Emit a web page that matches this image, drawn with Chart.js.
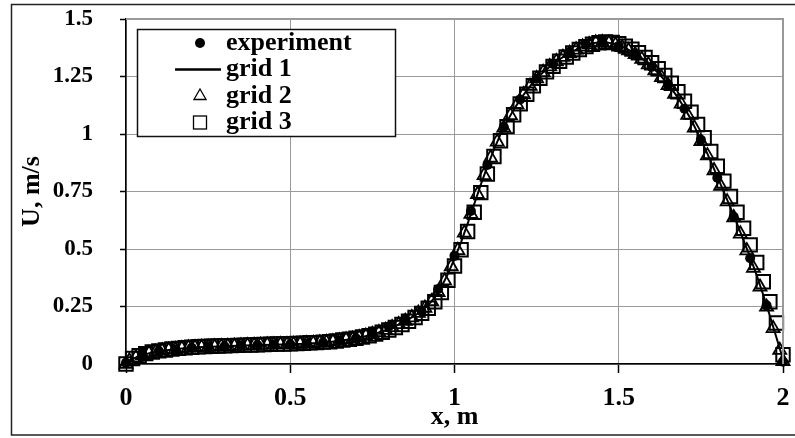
<!DOCTYPE html>
<html><head><meta charset="utf-8">
<script src="https://cdn.jsdelivr.net/npm/chart.js@4/dist/chart.umd.min.js"></script>
<style>html,body{margin:0;padding:0;background:#fff;} canvas{display:block;}</style>
</head><body>
<canvas id="c" width="795" height="438"></canvas>
<script>
// ---- data ----
const xGrid = [0,0.02,0.04,0.06,0.08,0.1,0.12,0.14,0.16,0.18,0.2,0.22,0.24,0.26,0.28,0.3,0.32,0.34,0.36,0.38,0.4,0.42,0.44,0.46,0.48,0.5,0.52,0.54,0.56,0.58,0.6,0.62,0.64,0.66,0.68,0.7,0.72,0.74,0.76,0.78,0.8,0.82,0.84,0.86,0.88,0.9,0.92,0.94,0.96,0.98,1,1.02,1.04,1.06,1.08,1.1,1.12,1.14,1.16,1.18,1.2,1.22,1.24,1.26,1.28,1.3,1.32,1.34,1.36,1.38,1.4,1.42,1.44,1.46,1.48,1.5,1.52,1.54,1.56,1.58,1.6,1.62,1.64,1.66,1.68,1.7,1.72,1.74,1.76,1.78,1.8,1.82,1.84,1.86,1.88,1.9,1.92,1.94,1.96,1.98,2];
const grid1 = [0.000,0.022,0.034,0.043,0.050,0.055,0.059,0.063,0.066,0.069,0.071,0.073,0.074,0.075,0.076,0.077,0.078,0.079,0.080,0.081,0.082,0.083,0.084,0.085,0.085,0.086,0.087,0.088,0.090,0.091,0.093,0.096,0.099,0.103,0.107,0.112,0.118,0.125,0.133,0.142,0.153,0.165,0.179,0.194,0.211,0.231,0.256,0.290,0.335,0.392,0.458,0.530,0.610,0.695,0.780,0.858,0.932,0.998,1.055,1.105,1.150,1.190,1.225,1.255,1.281,1.304,1.325,1.343,1.359,1.373,1.385,1.394,1.399,1.399,1.394,1.385,1.373,1.358,1.340,1.318,1.293,1.265,1.233,1.198,1.158,1.113,1.063,1.005,0.945,0.882,0.815,0.748,0.680,0.610,0.538,0.465,0.385,0.300,0.210,0.115,0.020];
const xGrid2 = [0,0.01,0.03,0.05,0.07,0.09,0.11,0.13,0.15,0.17,0.19,0.21,0.23,0.25,0.27,0.29,0.31,0.33,0.35,0.37,0.39,0.41,0.43,0.45,0.47,0.49,0.51,0.53,0.55,0.57,0.59,0.61,0.63,0.65,0.67,0.69,0.71,0.73,0.75,0.77,0.79,0.81,0.83,0.85,0.87,0.89,0.91,0.93,0.95,0.97,0.99,1.01,1.03,1.05,1.07,1.09,1.11,1.13,1.15,1.17,1.19,1.21,1.23,1.25,1.27,1.29,1.31,1.33,1.35,1.37,1.39,1.41,1.43,1.45,1.47,1.49,1.51,1.53,1.55,1.57,1.59,1.61,1.63,1.65,1.67,1.69,1.71,1.73,1.75,1.77,1.79,1.81,1.83,1.85,1.87,1.89,1.91,1.93,1.95,1.97,1.99,2];
const grid2 = [0.000,0.014,0.028,0.038,0.046,0.052,0.057,0.061,0.064,0.067,0.070,0.072,0.073,0.074,0.075,0.076,0.077,0.078,0.079,0.080,0.081,0.082,0.083,0.084,0.085,0.085,0.086,0.087,0.089,0.090,0.092,0.094,0.097,0.101,0.105,0.109,0.115,0.121,0.129,0.137,0.147,0.159,0.172,0.186,0.202,0.221,0.243,0.272,0.311,0.362,0.424,0.494,0.570,0.652,0.738,0.820,0.896,0.966,1.027,1.081,1.128,1.171,1.208,1.241,1.268,1.293,1.315,1.334,1.351,1.366,1.379,1.389,1.396,1.398,1.395,1.388,1.377,1.363,1.346,1.326,1.302,1.276,1.246,1.212,1.174,1.131,1.082,1.027,0.968,0.906,0.841,0.774,0.706,0.637,0.566,0.493,0.417,0.335,0.248,0.155,0.060,0.012];
const grid3 = [0.000,0.024,0.036,0.045,0.052,0.057,0.061,0.065,0.068,0.071,0.073,0.075,0.076,0.077,0.078,0.079,0.080,0.081,0.082,0.083,0.084,0.085,0.086,0.087,0.087,0.088,0.089,0.090,0.092,0.093,0.095,0.097,0.100,0.104,0.108,0.112,0.117,0.123,0.130,0.138,0.148,0.159,0.172,0.186,0.202,0.220,0.242,0.271,0.311,0.364,0.426,0.497,0.576,0.660,0.745,0.826,0.902,0.971,1.032,1.084,1.131,1.173,1.210,1.242,1.270,1.294,1.316,1.335,1.352,1.367,1.380,1.390,1.397,1.400,1.398,1.392,1.382,1.369,1.353,1.333,1.310,1.284,1.254,1.221,1.184,1.142,1.095,1.041,0.984,0.924,0.860,0.795,0.728,0.660,0.590,0.518,0.441,0.358,0.271,0.178,0.040];
const xExp = [0,0.05,0.1,0.15,0.2,0.25,0.3,0.35,0.4,0.45,0.5,0.55,0.6,0.65,0.7,0.75,0.8,0.85,0.9,0.95,1,1.05,1.1,1.15,1.2,1.25,1.3,1.35,1.4,1.45,1.5,1.55,1.6,1.65,1.7,1.75,1.8,1.85,1.9,1.95,2];
const experiment = [0.005,0.040,0.056,0.064,0.071,0.074,0.077,0.079,0.082,0.084,0.086,0.089,0.093,0.101,0.112,0.130,0.163,0.193,0.228,0.325,0.470,0.665,0.865,1.030,1.150,1.240,1.305,1.355,1.390,1.400,1.383,1.348,1.292,1.215,1.110,0.975,0.810,0.640,0.460,0.255,0.010];
const seriesNames = ['experiment','grid 1','grid 2','grid 3'];
const xTickValues = [0,0.5,1,1.5,2];
const xTickLabels = ['0','0.5','1','1.5','2'];
const yTickValues = [0,0.25,0.5,0.75,1,1.25,1.5];
const yTickLabels = ['0','0.25','0.5','0.75','1','1.25','1.5'];
const xTitle = 'x, m';
const yTitle = 'U, m/s';

const FONT = "'Liberation Serif','Times New Roman',serif";
const pts = (xs, ys) => xs.map((x, i) => ({x: x, y: ys[i]}));

// ---- decorative plugins ----
const framePlugin = {
  id: 'frame',
  beforeDraw(chart) {
    const ctx = chart.ctx;
    ctx.save();
    ctx.fillStyle = '#fff';
    ctx.fillRect(0, 0, chart.width, chart.height);
    ctx.strokeStyle = '#222';
    ctx.lineWidth = 1.5;
    ctx.strokeRect(11.5, 4.5, chart.width + 10, 430.5);
    ctx.restore();
  },
  afterDatasetsDraw(chart) {
    const a = chart.chartArea, ctx = chart.ctx;
    ctx.save();
    ctx.strokeStyle = '#999';
    ctx.lineWidth = 2;
    ctx.beginPath();
    ctx.moveTo(a.left, a.top);
    ctx.lineTo(a.right, a.top);
    ctx.lineTo(a.right, a.bottom);
    ctx.stroke();
    ctx.restore();
  }
};

const legendPlugin = {
  id: 'boxLegend',
  afterDraw(chart) {
    const a = chart.chartArea, ctx = chart.ctx;
    const L = a.left + 11, T = a.top + 10, W = 258, H = 107;
    ctx.save();
    ctx.fillStyle = '#fff';
    ctx.fillRect(L, T, W, H);
    ctx.strokeStyle = '#111';
    ctx.lineWidth = 1.5;
    ctx.strokeRect(L + 0.5, T + 0.5, W, H);
    const sx = L + 63, tx = L + 89;
    const rows = [T + 14, T + 40.5, T + 67, T + 93.5];
    ctx.fillStyle = '#000';
    ctx.strokeStyle = '#000';
    ctx.beginPath(); ctx.arc(sx, rows[0], 5, 0, Math.PI * 2); ctx.fill();
    ctx.lineWidth = 2.5;
    ctx.beginPath(); ctx.moveTo(L + 38, rows[1]); ctx.lineTo(L + 84, rows[1]); ctx.stroke();
    ctx.lineWidth = 1.3;
    const r = 7;
    ctx.beginPath();
    ctx.moveTo(sx, rows[2] - r);
    ctx.lineTo(sx + r * 0.866, rows[2] + r * 0.5);
    ctx.lineTo(sx - r * 0.866, rows[2] + r * 0.5);
    ctx.closePath(); ctx.stroke();
    ctx.strokeRect(sx - 6.5, rows[3] - 6.5, 13, 13);
    ctx.font = 'bold 26px ' + FONT;
    ctx.textBaseline = 'middle';
    ctx.textAlign = 'left';
    seriesNames.forEach((n, i) => ctx.fillText(n, tx, rows[i]));
    ctx.restore();
  }
};

const tickFont = (s) => ({family: FONT, size: s, weight: 'bold'});

new Chart(document.getElementById('c'), {
  type: 'scatter',
  data: {
    datasets: [
      {label: seriesNames[0], data: pts(xExp, experiment), showLine: false, pointStyle: 'circle', pointRadius: 5,
       pointBackgroundColor: '#000', pointBorderColor: '#000', pointBorderWidth: 0, order: 4, clip: false},
      {label: seriesNames[1], data: pts(xGrid, grid1), showLine: true, pointRadius: 0, borderColor: '#000',
       borderWidth: 2, fill: false, tension: 0, order: 3, clip: false},
      {label: seriesNames[2], data: pts(xGrid2, grid2), showLine: false, pointStyle: 'triangle', pointRadius: 7.5,
       pointBackgroundColor: 'rgba(0,0,0,0)', pointBorderColor: '#000', pointBorderWidth: 1.8, order: 2, clip: false},
      {label: seriesNames[3], data: pts(xGrid, grid3), showLine: false, pointStyle: 'rect', pointRadius: 9.5,
       pointBackgroundColor: 'rgba(0,0,0,0)', pointBorderColor: '#000', pointBorderWidth: 2, order: 1, clip: false}
    ]
  },
  options: {
    responsive: false,
    animation: false,
    events: [],
    layout: {padding: {top: 19, right: 12, left: 0, bottom: 0}},
    plugins: {legend: {display: false}, tooltip: {enabled: false}},
    scales: {
      x: {
        type: 'linear', min: 0, max: 2,
        afterBuildTicks: (s) => { s.ticks = xTickValues.map(v => ({value: v})); },
        afterFit: (s) => { s.height = 74; s.paddingLeft = 0; s.paddingRight = 0; },
        ticks: {callback: (v) => xTickLabels[xTickValues.indexOf(v)], color: '#000', font: tickFont(26),
                padding: 10, maxRotation: 0, autoSkip: false},
        grid: {color: '#9a9a9a', lineWidth: 1, borderDash: [2, 2], tickLength: 9, tickColor: '#000',
               tickWidth: 1.5, tickBorderDash: []},
        border: {color: '#000', width: 1.5},
        title: {display: true, text: xTitle, color: '#000', font: tickFont(26), padding: {top: 0, bottom: 5}}
      },
      y: {
        type: 'linear', min: 0, max: 1.5,
        afterBuildTicks: (s) => { s.ticks = yTickValues.map(v => ({value: v})); },
        afterFit: (s) => { s.width = 126; s.paddingTop = 0; s.paddingBottom = 0; },
        ticks: {callback: (v) => yTickLabels[yTickValues.indexOf(v)], color: '#000', font: tickFont(23),
                padding: 27, autoSkip: false},
        grid: {color: '#9a9a9a', lineWidth: 1, borderDash: [2, 2], tickLength: 6, tickColor: '#000',
               tickWidth: 1.5, tickBorderDash: []},
        border: {color: '#000', width: 1.5},
        title: {display: true, text: yTitle, color: '#000', font: tickFont(26), padding: {top: 17, bottom: 0}}
      }
    }
  },
  plugins: [framePlugin, legendPlugin]
});
</script>
</body></html>
